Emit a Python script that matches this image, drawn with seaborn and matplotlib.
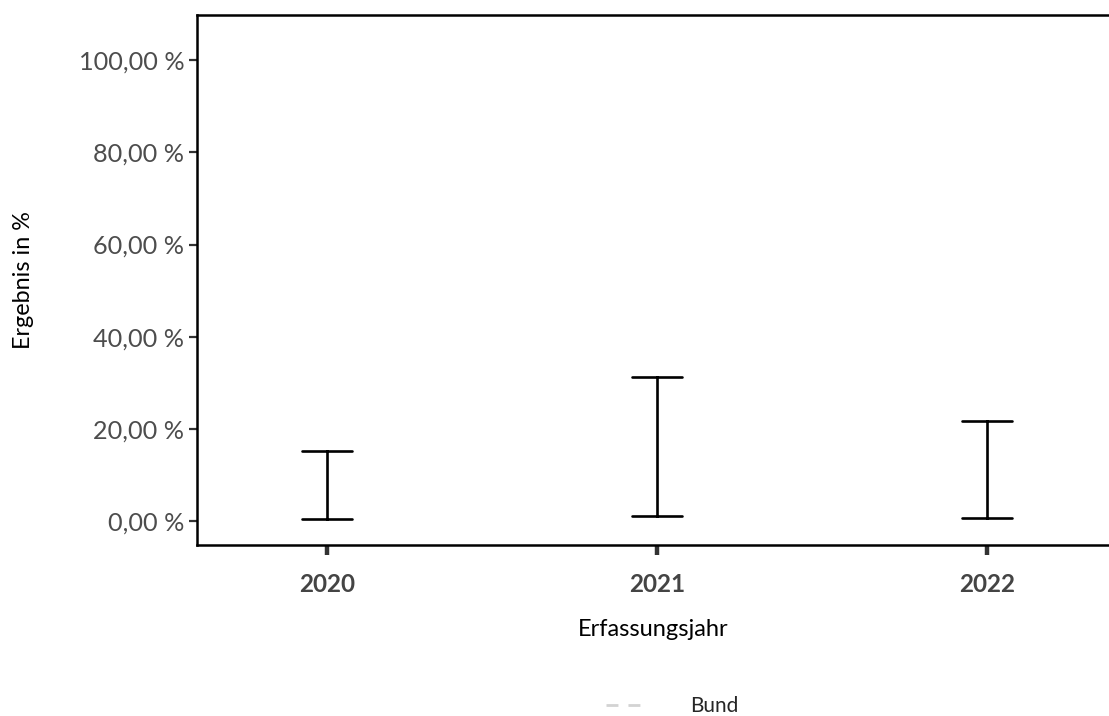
import pandas as pd
import numpy as np
import matplotlib.pyplot as plt
import matplotlib.ticker as mticker
from matplotlib.lines import Line2D
import seaborn as sns

# ── Données ─────────────────────────────────────────────────────
jahre = ["2020", "2021", "2022"]
untere_grenze = [0.4, 1.1, 0.65]     # % (unteres Ende Vertrauensbereich)
obere_grenze = [15.2, 31.2, 21.7]    # % (oberes Ende Vertrauensbereich)
y_ticks = [0, 20, 40, 60, 80, 100]

# Long-Format : deux lignes par année (min / max) → intervalle pi 100
df = pd.DataFrame({
    "Erfassungsjahr": jahre + jahre,
    "Ergebnis": untere_grenze + obere_grenze,
})

sns.set_theme(style="white")
plt.rcParams["font.family"] = ["Lato", "DejaVu Sans"]

fig = plt.figure(figsize=(11.09, 7.16), dpi=100)
ax = fig.add_axes([0.1776, 0.2388, 0.8224, 0.7402])

sns.pointplot(data=df, x="Erfassungsjahr", y="Ergebnis", order=jahre,
              errorbar=("pi", 100), capsize=0.15, marker="", linestyle="none",
              color="black", err_kws={"linewidth": 1.9}, ax=ax)

ax.set_xlim(-0.394, 2.37)
ax.set_ylim(-5.2, 109.8)
ax.set_yticks(y_ticks)
ax.yaxis.set_major_formatter(mticker.FuncFormatter(
    lambda v, _: f"{v:.2f}".replace(".", ",") + " %"))

for side in ["left", "bottom", "top"]:
    ax.spines[side].set_visible(True)
    ax.spines[side].set_color("black")
    ax.spines[side].set_linewidth(1.8)
ax.spines["right"].set_visible(False)

ax.tick_params(axis="y", which="major", direction="out", length=6, width=1.6,
               color="#333333", labelsize=18.2, labelcolor="#4d4d4d", pad=3, left=True)
ax.tick_params(axis="x", which="major", direction="out", length=7, width=3.2,
               color="#333333", labelsize=17.5, labelcolor="#444444", pad=13, bottom=True)
for lab in ax.get_xticklabels():
    lab.set_fontweight("bold")

ax.set_xlabel("Erfassungsjahr", fontsize=17, color="black", labelpad=17)
ax.set_ylabel("Ergebnis in %", fontsize=16.8, color="black", labelpad=32)

# Légende "Bund" (ligne de référence tiretée)
handle = Line2D([], [], color="#d3d3d3", linestyle=(0, (4.3, 3.6)), linewidth=2)
fig.legend([handle], ["Bund"], loc="center", bbox_to_anchor=(0.606, 0.014),
           frameon=False, fontsize=15, handlelength=1.63, handletextpad=2.4)

plt.savefig("out.png", dpi=100)
